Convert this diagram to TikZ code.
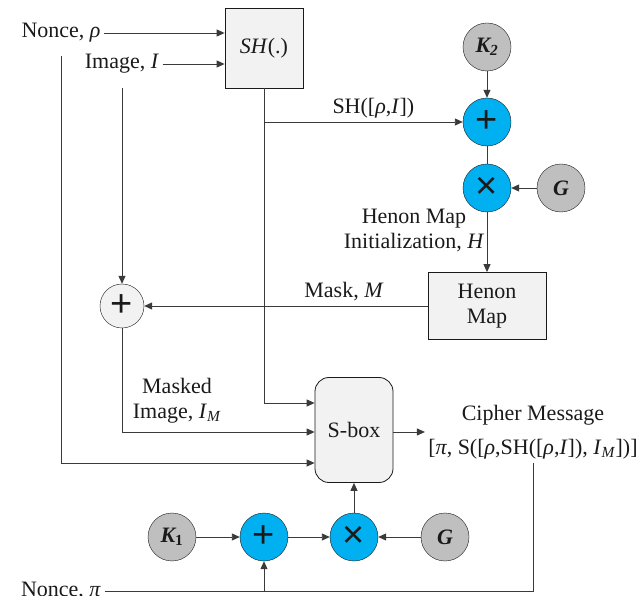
\documentclass[tikz,border=0pt]{standalone}
\usepackage{fontspec}
\setmainfont{Liberation Serif}
\newfontfamily\opfont{Liberation Sans}
\usetikzlibrary{arrows.meta,positioning}
\definecolor{Op}{HTML}{00B0F0}
\definecolor{Key}{HTML}{BFBFBF}
\definecolor{Pane}{HTML}{F2F2F2}
\definecolor{Ink}{HTML}{1A1A1A}
\definecolor{Wire}{HTML}{3A3A3A}

\begin{document}
\begin{tikzpicture}[x=1pt,y=-1pt,>={Triangle[length=8pt,width=7pt]},
  every node/.style={font=\fontsize{22}{25}\selectfont,text=Ink},
  wire/.style={draw=Wire,line width=0.9pt},
  box/.style={draw=Ink,fill=Pane,line width=0.8pt,align=center},
  opnode/.style={circle,draw=Ink,fill=Op,minimum size=48pt,inner sep=0pt,
    font=\opfont\fontsize{38}{38}\selectfont},
  keynode/.style={circle,draw=Ink,fill=Key,minimum size=48pt,inner sep=0pt,
    font=\fontsize{22}{22}\selectfont\bfseries\itshape}]
  \useasboundingbox (0,0) rectangle (638,596);
  % inputs and hash
  \node (nonceR) at (61,33) {Nonce, \textit{ρ}};
  \node (image) at (122,64) {Image, \textit{I}};
  \node[box,minimum width=78pt,minimum height=80pt] (sh) at (264,48) {\textit{SH}(.)};
  % Henon branch
  \node[keynode] (k2) at (487,47) {K\textsubscript{2}};
  \node[opnode] (addA) at (487,122) {+};
  \node[opnode] (mulA) at (487,188) {×};
  \node[keynode] (gA) at (561,188) {G};
  \node[box,minimum width=118pt,minimum height=67pt] (henon) at (487,306) {Henon\\Map};
  \node[align=center] (hinit) at (414,230) {Henon Map\\Initialization, \textit{H}};
  \node[opnode,fill=Pane,minimum size=44pt] (xorM) at (122,306) {+};
  \node (masklbl) at (344,292) {Mask, \textit{M}};
  \node[align=center] (maskedlbl) at (177,401) {Masked\\Image, \textit{I}\textsubscript{\textit{M}}};
  % S-box and output
  \node[box,rounded corners=14pt,minimum width=78pt,minimum height=105pt] (sbox) at (354,430) {S-box};
  \node[align=center] (cipher) at (533,432) {Cipher Message\\[9pt]%
    [\textit{π}, S([\textit{ρ},SH([\textit{ρ},\textit{I}]), \textit{I}\textsubscript{\textit{M}}])]};
  % key row
  \node[keynode] (k1) at (172,537) {K\textsubscript{\normalfont\bfseries 1}};
  \node[opnode] (addB) at (264,537) {+};
  \node[opnode] (mulB) at (354,537) {×};
  \node[keynode] (gB) at (445,537) {G};
  \node (nonceP) at (61,591) {Nonce, \textit{π}};

  \draw[wire,->] (nonceR.east) -- (nonceR.east -| sh.west);
  \draw[wire,->] (image.east) -- (image.east -| sh.west);
  \draw[wire,->] ([yshift=-10pt]nonceR.south) |- ([yshift=-33pt]sbox.west);
  \draw[wire,->] ([yshift=-11pt]image.south) -- (xorM.north);
  \draw[wire,->] (sh.south) |- ([yshift=27pt]sbox.west);
  \draw[wire,->] (sh.south |- addA) -- (addA.west)
    node[pos=0.55,above] (shlbl) {SH([\textit{ρ},\textit{I}])};
  \draw[wire,->] (k2) -- (addA);
  \draw[wire] (addA) -- (mulA);
  \draw[wire,->] (gA) -- (mulA);
  \draw[wire,->] (mulA) -- (henon);
  \draw[wire,->] (henon.west) -- (xorM.east);
  \draw[wire,->] (xorM.south) |- ([yshift=-2pt]sbox.west);
  \draw[wire,->] ([yshift=-2pt]sbox.east) -- ([yshift=-2pt]sbox.east -| cipher.west);
  \draw[wire,->] (k1) -- (addB);
  \draw[wire,->] (addB) -- (mulB);
  \draw[wire,->] (gB) -- (mulB);
  \draw[wire,->] (mulB) -- (sbox);
  \draw[wire] (nonceP.east) -| (cipher.south);
  \draw[wire,->] (addB.south |- nonceP) -- (addB.south);
\end{tikzpicture}
\end{document}
